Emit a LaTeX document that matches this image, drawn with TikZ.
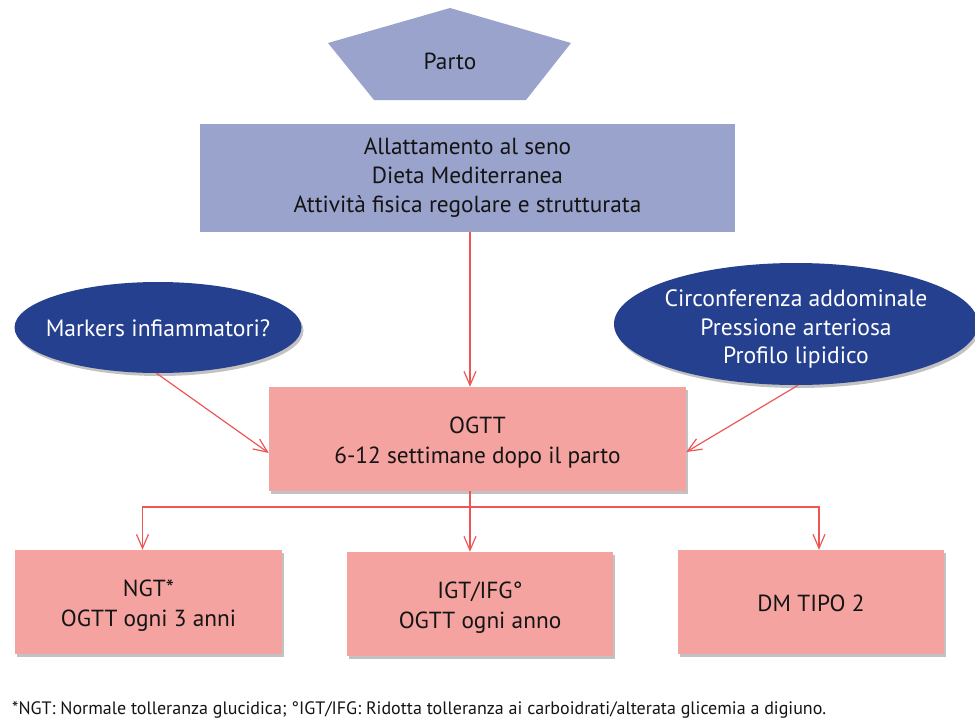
\documentclass[tikz,border=0pt]{standalone}
\usepackage{fontspec}
\setmainfont{PT Sans}
\usetikzlibrary{shapes.geometric,arrows.meta,shadows}
\definecolor{lav}{RGB}{153,163,204}
\definecolor{navy}{RGB}{37,64,143}
\definecolor{pinkbox}{RGB}{245,163,160}
\definecolor{redline}{RGB}{238,85,85}
\definecolor{txt}{RGB}{20,20,20}
\tikzset{
  lavbox/.style={fill=lav, draw=none, minimum width=535pt, minimum height=108pt, align=center, text=txt, font=\fontsize{23.3}{29}\selectfont, inner sep=0pt},
  pinkrect/.style={fill=pinkbox, draw=none, inner sep=0pt,
    drop shadow={shadow xshift=2pt, shadow yshift=-3pt, opacity=0.4, fill=black!60}},
  navyell/.style={ellipse, fill=navy, draw=none, inner sep=0pt,
    drop shadow={shadow xshift=2pt, shadow yshift=-3pt, opacity=0.4, fill=black!60}},
  pinktext/.style={align=center, inner sep=0pt, text=txt, font=\fontsize{23.3}{30.5}\selectfont},
  elltext/.style={align=center, inner sep=0pt, text=white, font=\fontsize{23.6}{28.6}\selectfont},
  conn/.style={draw=redline, line width=1.2pt},
  arr/.style={conn, -{Straight Barb[length=14pt,width=12pt,line width=1.2pt]}},
}
\begin{document}
\begin{tikzpicture}[x=1pt,y=-1pt]
\useasboundingbox (0,0) rectangle (975,721);
% pentagon
\fill[lav] (450,8) -- (571,43) -- (526,100) -- (374,100) -- (328,43) -- cycle;
\node[text=txt, font=\fontsize{23.3}{26}\selectfont] (parto) at (450,61) {Parto};
\node[lavbox] (blue) at (467.5,178) {Allattamento al seno\\Dieta Mediterranea\\Attività fisica regolare e strutturata};
\node[navyell, minimum width=287pt, minimum height=91pt] (lell) at (158,327.5) {};
\node[elltext] (lellt) at ([yshift=-1pt]lell.center) {Markers infiammatori?};
\node[navyell, minimum width=364pt, minimum height=122pt] (rell) at (796,324) {};
\node[elltext] (rellt) at ([yshift=-5pt]rell.center) {Circonferenza addominale\\Pressione arteriosa\\Profilo lipidico};
\node[pinkrect, minimum width=417pt, minimum height=104pt] (ogtt) at (477.5,439) {};
\node[pinktext] (ogttt) at ([yshift=-3.5pt]ogtt.center) {OGTT\\6-12 settimane dopo il parto};
\node[pinkrect, minimum width=267pt, minimum height=104pt] (ngt) at (148.5,602) {};
\node[pinktext] (ngtt) at ([yshift=-3.5pt]ngt.center) {NGT*\\OGTT ogni 3 anni};
\node[pinkrect, minimum width=266pt, minimum height=104pt] (igt) at (480,604) {};
\node[pinktext] (igtt) at ([yshift=-3.5pt]igt.center) {IGT/IFG°\\OGTT ogni anno};
\node[pinkrect, minimum width=266pt, minimum height=104pt] (dm) at (811,602) {};
\node[pinktext] (dmt) at ([yshift=-1pt]dm.center) {DM TIPO 2};
\node[anchor=base west, inner sep=0pt, text=txt, font=\fontsize{18}{20}\selectfont] (foot) at (12,714) {*NGT: Normale tolleranza glucidica; °IGT/IFG: Ridotta tolleranza ai carboidrati/alterata glicemia a digiuno.};
\coordinate (cx) at (470,0);
\coordinate (br) at (470,507);
\draw[arr] (blue.south -| cx) -- (ogtt.north -| cx);
\draw[arr] (lell.-92) -- ([yshift=-14pt]ogtt.west);
\draw[arr] (rell.-88) -- ([yshift=-13pt]ogtt.east);
\draw[conn] (ogtt.south -| br) -- (br);
\draw[arr] (br) -- (igt.north -| br);
\draw[arr] (br) -| ([xshift=-6pt]ngt.north);
\draw[arr] (br) -| ([xshift=8pt]dm.north);
\end{tikzpicture}
\end{document}
